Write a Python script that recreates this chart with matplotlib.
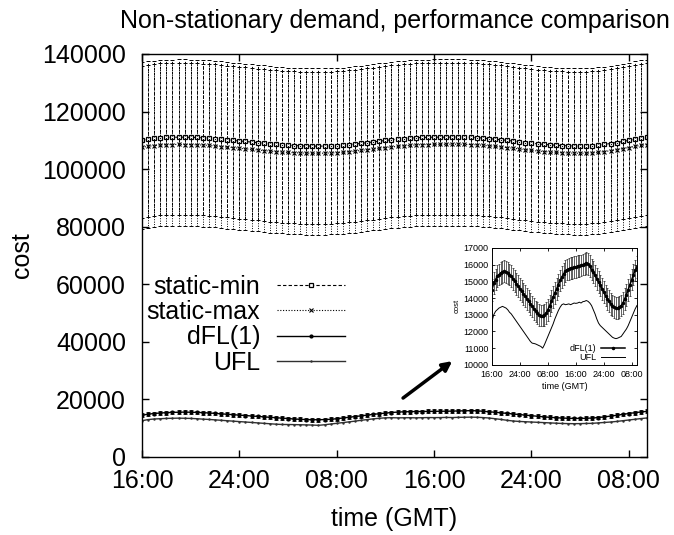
import matplotlib.pyplot as plt
import numpy as np

plt.rcParams['font.family'] = ['Liberation Sans', 'DejaVu Sans']

# half-hour samples starting 16:00 GMT
hours = np.arange(84) * 0.5
tick_pos = [0, 8, 16, 24, 32, 40]
tick_labels = ['16:00', '24:00', '08:00', '16:00', '24:00', '08:00']

static_min = [110100, 110400, 110700, 110900, 111000, 111050, 111100, 111100, 111050, 111000, 110900, 110800,
              110600, 110400, 110200, 110000, 109800, 109600, 109400, 109200, 109000, 108800, 108600, 108450,
              108300, 108200, 108100, 108050, 108000, 108000, 108000, 108050, 108150, 108300, 108500, 108700,
              108950, 109200, 109450, 109700, 109950, 110200, 110400, 110600, 110750, 110900, 111000, 111050,
              111100, 111100, 111100, 111150, 111150, 111100, 111050, 110950, 110800, 110600, 110400, 110200,
              110000, 109750, 109500, 109250, 109000, 108800, 108600, 108450, 108300, 108200, 108100, 108050,
              108000, 108050, 108150, 108350, 108600, 108900, 109250, 109600, 110000, 110400, 110750, 111050]
static_min_err = 27000

static_max = [107600, 107900, 108200, 108400, 108500, 108550, 108600, 108550, 108500, 108450, 108350, 108250,
              108050, 107850, 107650, 107450, 107250, 107050, 106850, 106650, 106450, 106250, 106100, 105950,
              105800, 105700, 105600, 105550, 105500, 105500, 105550, 105600, 105700, 105850, 106050, 106250,
              106500, 106750, 107000, 107250, 107500, 107700, 107900, 108100, 108250, 108400, 108500, 108550,
              108600, 108600, 108650, 108650, 108650, 108600, 108550, 108450, 108300, 108100, 107900, 107700,
              107500, 107250, 107000, 106750, 106500, 106300, 106100, 105950, 105800, 105700, 105600, 105550,
              105500, 105550, 105650, 105850, 106100, 106400, 106750, 107100, 107500, 107900, 108250, 108550]
static_max_err = 28300

dfl = [14500, 14900, 15100, 15300, 15400, 15500, 15550, 15600, 15550, 15500, 15400, 15300,
       15150, 15000, 14850, 14700, 14550, 14400, 14250, 14100, 13950, 13800, 13650, 13500,
       13350, 13200, 13100, 13000, 12950, 12950, 13000, 13100, 13300, 13550, 13800, 14050,
       14300, 14550, 14800, 15050, 15250, 15450, 15600, 15700, 15750, 15800, 15800, 15850,
       15850, 15900, 15900, 15950, 16000, 16050, 16100, 16050, 15900, 15700, 15550, 15350,
       15150, 14950, 14750, 14550, 14350, 14150, 13950, 13800, 13650, 13550, 13450, 13400,
       13400, 13450, 13550, 13700, 13950, 14200, 14500, 14800, 15100, 15400, 15650, 15850]
dfl_err = 650

ufl = [12600, 13000, 13200, 13300, 13400, 13450, 13500, 13450, 13400, 13300, 13150, 13050,
       12900, 12750, 12600, 12450, 12300, 12150, 12000, 11850, 11700, 11550, 11400, 11300,
       11280, 11250, 11200, 11150, 11100, 11000, 11200, 11450, 11700, 11950, 12200, 12450,
       12750, 13000, 13250, 13450, 13600, 13650, 13600, 13620, 13650, 13600, 13650, 13700,
       13680, 13700, 13750, 13700, 13780, 13800, 13850, 13800, 13700, 13550, 13300, 13050,
       12750, 12500, 12350, 12250, 12150, 12050, 11950, 11850, 11750, 11650, 11600, 11570,
       11600, 11650, 11700, 11850, 12000, 12150, 12350, 12600, 12850, 13100, 13350, 13550]

fig = plt.figure(figsize=(6.74, 5.35), dpi=100)
ax = fig.add_axes([0.2107, 0.1458, 0.7493, 0.7533])

# static-min
eb = ax.errorbar(hours, static_min, yerr=static_min_err, fmt='none', ecolor='black',
                 elinewidth=0.7, capsize=1.5, capthick=0.7)
eb[2][0].set_linestyle((0, (3, 2)))
ax.plot(hours, static_min, color='black', lw=0.8, ls=(0, (3, 2)), marker='s', ms=3.5,
        mfc='white', mec='black', mew=0.9, label='static-min')
# static-max
eb = ax.errorbar(hours, static_max, yerr=static_max_err, fmt='none', ecolor='black',
                 elinewidth=0.7, capsize=1.5, capthick=0.7)
eb[2][0].set_linestyle((0, (1, 1.5)))
ax.plot(hours, static_max, color='black', lw=0.8, ls=(0, (1, 1.5)), marker='x', ms=3,
        mew=0.8, label='static-max')
# dFL(1)
ax.errorbar(hours, dfl, yerr=dfl_err, fmt='none', ecolor='black', elinewidth=0.6,
            capsize=1.2, capthick=0.6)
ax.plot(hours, dfl, color='black', lw=1.0, marker='o', ms=2, label='dFL(1)')
# UFL
ax.plot(hours, ufl, color='#303030', lw=1.0, marker='.', ms=1.5, label='UFL')

ax.set_xlim(0, 41.5)
ax.set_ylim(0, 140000)
ax.set_xticks(tick_pos)
ax.set_xticklabels(tick_labels)
ax.set_yticks(np.arange(0, 140001, 20000))
ax.tick_params(direction='in', top=True, right=True, length=5, width=1, labelsize=18)
ax.tick_params(axis='y', pad=11.5)
ax.tick_params(axis='x', pad=9)
for s in ax.spines.values():
    s.set_linewidth(1.0)
ax.set_xlabel('time (GMT)', fontsize=18, labelpad=10)
ax.set_ylabel('cost', fontsize=18, labelpad=6)
ax.set_title('Non-stationary demand, performance comparison', fontsize=18, pad=19)

ax.legend(loc='upper right', bbox_to_anchor=(0.402, 0.452), frameon=False, fontsize=18,
          markerfirst=False, numpoints=1, handlelength=2.72, handletextpad=0.68,
          labelspacing=0.05, borderpad=0, borderaxespad=0)

# inset
axin = fig.add_axes([0.730, 0.318, 0.215, 0.2187])
axin.errorbar(hours, dfl, yerr=dfl_err, fmt='none', ecolor='#222222', elinewidth=0.5,
              capsize=1.0, capthick=0.5)
axin.plot(hours, dfl, color='black', lw=1.1, marker='o', ms=1.5, label='dFL(1)')
axin.plot(hours, ufl, color='black', lw=0.7, label='UFL')
axin.set_xlim(0, 41.5)
axin.set_ylim(10000, 17000)
axin.set_xticks(tick_pos)
axin.set_xticklabels(tick_labels)
axin.set_yticks(np.arange(10000, 17001, 1000))
axin.tick_params(direction='in', top=True, right=True, length=2.5, width=0.6, labelsize=6.5)
axin.tick_params(axis='x', pad=3.5)
axin.tick_params(axis='y', pad=2.5)
for s in axin.spines.values():
    s.set_linewidth(0.7)
axin.set_xlabel('time (GMT)', fontsize=6.5, labelpad=2)
axin.set_ylabel('cost', fontsize=5.5, labelpad=2)
axin.legend(loc='upper right', bbox_to_anchor=(0.917, 0.175), frameon=False, fontsize=6.5,
            markerfirst=False, numpoints=1, handlelength=2.6, handletextpad=0.55,
            labelspacing=0.0, borderpad=0, borderaxespad=0)

ax.annotate('', xy=(0.671, 0.325), xytext=(0.598, 0.256), xycoords='figure fraction',
            textcoords='figure fraction',
            arrowprops=dict(arrowstyle='-|>', lw=2.5, color='black', mutation_scale=14,
                            shrinkA=0, shrinkB=0))

fig.savefig('out.png', dpi=100)
